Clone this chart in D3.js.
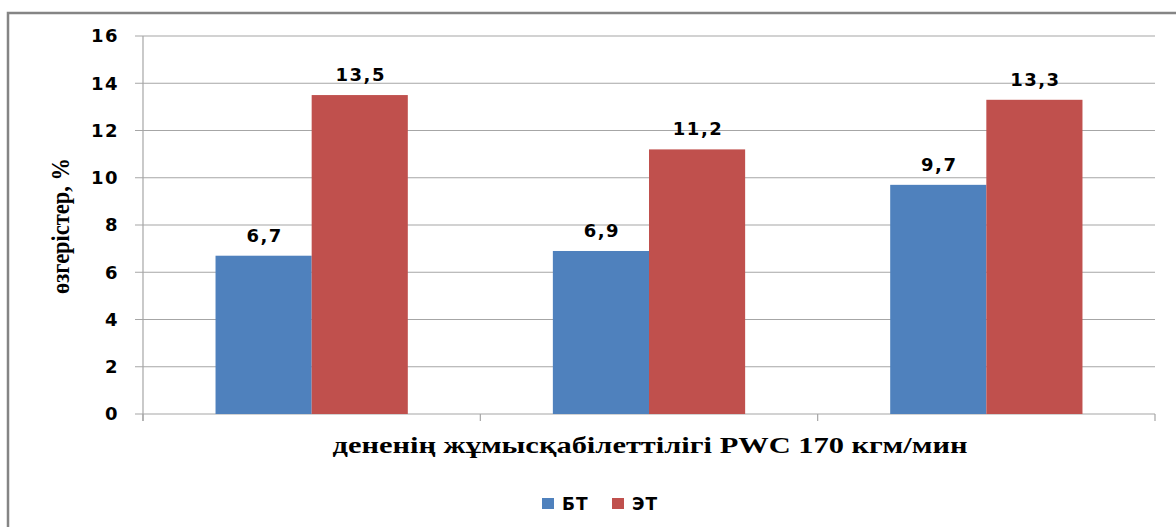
<!DOCTYPE html>
<html>
<head>
<meta charset="utf-8">
<script src="https://cdn.jsdelivr.net/npm/d3@7"></script>
<style>
  body { margin: 0; background: #fff; }
  svg { display: block; }
</style>
</head>
<body>
<div class="vis-barChart"></div>
<script>
var categories = ["1", "2", "3"];
var seriesNames = ["БТ", "ЭТ"];
var btValues = [6.7, 6.9, 9.7];
var etValues = [13.5, 11.2, 13.3];
var valueLabels = [["6,7", "13,5"], ["6,9", "11,2"], ["9,7", "13,3"]];
var yTicks = [0, 2, 4, 6, 8, 10, 12, 14, 16];
var colors = ["#4f81bd", "#c0504d"];

var W = 1176, H = 527;
var margin = {top: 36, right: 21, bottom: 113, left: 143};

var svg = d3.select('.vis-barChart').append('svg')
    .attr("width", W)
    .attr("height", H);

// outer frame (only left and top edges visible)
svg.append("rect")
    .attr("x", 8).attr("y", 13)
    .attr("width", W + 20).attr("height", H + 20)
    .attr("fill", "none")
    .attr("stroke", "#858585")
    .attr("stroke-width", 2.5);

var x0 = d3.scaleBand()
    .domain(categories)
    .range([margin.left, W - margin.right])
    .paddingInner(0.43).paddingOuter(0.215);

var x1 = d3.scaleBand()
    .domain(seriesNames)
    .range([0, x0.bandwidth()]);

var y = d3.scaleLinear()
    .domain([0, 16])
    .range([H - margin.bottom, margin.top]);

// gridlines
svg.append("g")
    .selectAll("line")
    .data(yTicks)
    .enter().append("line")
    .attr("x1", margin.left - 8)
    .attr("x2", W - margin.right)
    .attr("y1", function(d) { return y(d); })
    .attr("y2", function(d) { return y(d); })
    .attr("stroke", "#a6a6a6")
    .attr("stroke-width", 1.2);

// y axis line
svg.append("line")
    .attr("x1", margin.left).attr("x2", margin.left)
    .attr("y1", y(16)).attr("y2", y(0) + 7)
    .attr("stroke", "#a6a6a6").attr("stroke-width", 1.2);

// category tick marks
var step = (W - margin.right - margin.left) / categories.length;
svg.append("g")
    .selectAll("line")
    .data(d3.range(categories.length + 1))
    .enter().append("line")
    .attr("x1", function(i) { return margin.left + i * step; })
    .attr("x2", function(i) { return margin.left + i * step; })
    .attr("y1", y(0)).attr("y2", y(0) + 7)
    .attr("stroke", "#a6a6a6").attr("stroke-width", 1.2);

// y tick labels
svg.append("g")
    .selectAll("text")
    .data(yTicks)
    .enter().append("text")
    .attr("x", 119)
    .attr("y", function(d) { return y(d); })
    .attr("dy", "0.36em")
    .attr("text-anchor", "end")
    .style("font-family", "'DejaVu Sans', Verdana, sans-serif")
    .style("font-weight", "bold")
    .style("font-size", "18px")
    .style("letter-spacing", "1.5px")
    .attr("fill", "#000")
    .text(function(d) { return d; });

// bars
var rows = categories.map(function(c, i) {
    return [
        {cat: c, s: seriesNames[0], v: btValues[i], label: valueLabels[i][0], color: colors[0]},
        {cat: c, s: seriesNames[1], v: etValues[i], label: valueLabels[i][1], color: colors[1]}
    ];
});

var groups = svg.append("g")
    .selectAll("g")
    .data(rows)
    .enter().append("g")
    .attr("transform", function(d) { return "translate(" + x0(d[0].cat) + ",0)"; });

groups.selectAll("rect")
    .data(function(d) { return d; })
    .enter().append("rect")
    .attr("x", function(d) { return x1(d.s); })
    .attr("y", function(d) { return y(d.v); })
    .attr("width", x1.bandwidth())
    .attr("height", function(d) { return y(0) - y(d.v); })
    .attr("fill", function(d) { return d.color; });

groups.selectAll("text")
    .data(function(d) { return d; })
    .enter().append("text")
    .attr("x", function(d) { return x1(d.s) + x1.bandwidth() / 2 + 1; })
    .attr("y", function(d) { return y(d.v) - 14; })
    .attr("text-anchor", "middle")
    .style("font-family", "'DejaVu Sans', Verdana, sans-serif")
    .style("font-weight", "bold")
    .style("font-size", "18px")
    .style("letter-spacing", "1.5px")
    .attr("fill", "#000")
    .text(function(d) { return d.label; });

// axis titles
svg.append("text")
    .attr("transform", "translate(69,226) rotate(-90)")
    .attr("text-anchor", "middle")
    .attr("textLength", 136)
    .attr("lengthAdjust", "spacingAndGlyphs")
    .style("font-family", "'Liberation Serif', 'Times New Roman', serif")
    .style("font-weight", "bold")
    .style("font-size", "26px")
    .text("өзгерістер,  %");

svg.append("text")
    .attr("x", 650)
    .attr("y", 453)
    .attr("text-anchor", "middle")
    .attr("textLength", 635)
    .attr("lengthAdjust", "spacingAndGlyphs")
    .style("font-family", "'Liberation Serif', 'Times New Roman', serif")
    .style("font-weight", "bold")
    .style("font-size", "24px")
    .text("дененің жұмысқабілеттілігі PWC 170 кгм/мин");

// legend
var legend = svg.append("g")
    .selectAll("g")
    .data(seriesNames)
    .enter().append("g")
    .attr("transform", function(d, i) { return "translate(" + (542 + i * 70) + ",498)"; });

legend.append("rect")
    .attr("width", 12).attr("height", 11)
    .attr("fill", function(d, i) { return colors[i]; });

legend.append("text")
    .attr("x", 20).attr("y", 11.5)
    .style("font-family", "'DejaVu Sans', Verdana, sans-serif")
    .style("font-weight", "bold")
    .style("font-size", "17px")
    .style("letter-spacing", "1px")
    .text(function(d) { return d; });
</script>
</body>
</html>
